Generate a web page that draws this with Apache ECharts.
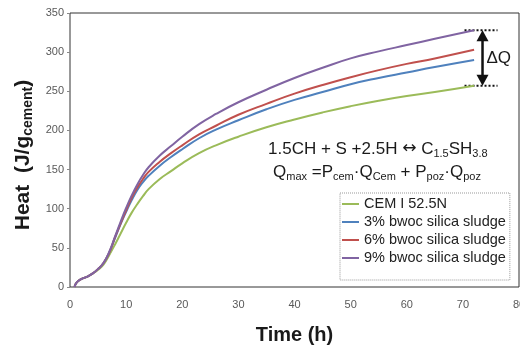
<!DOCTYPE html>
<html><head><meta charset="utf-8">
<script src="https://cdn.jsdelivr.net/npm/echarts@6/dist/echarts.min.js"></script>
<style>html,body{margin:0;padding:0;background:#fff}#c{width:520px;height:347px}</style>
</head><body><div id="c"></div>
<script>
const timeH = [0.8,1.2,2,3,4,5,6,7,8,9,10,11,12,13,14,16,18,20,23,26,30,35,40,45,50,55,60,65,72];
const cem   = [0,6,10,13,17,22,29,41,54,68,82,95,106,116,125,138,148,158,171,181,192,204,214,223,231,238,244,249,257];
const ss3   = [0,6,10,13,17,23,31,44,62,80,96,111,124,134,142,155,166,176,190,201,213,227,239,249,259,267,274,281,290];
const ss6   = [0,6,10,13,17,23,31,44,63,81,98,114,127,138,147,160,171,181,195,206,220,234,247,258,268,277,285,292,303];
const ss9   = [0,6,10,13,17,23,31,45,64,83,101,117,131,143,153,168,180,192,208,221,236,252,267,280,292,301,309,317,328];
const seriesNames = ['CEM I 52.5N','3% bwoc silica sludge','6% bwoc silica sludge','9% bwoc silica sludge'];
const seriesColors = ['#9bbb59','#4f81bd','#c0504d','#8064a2'];
const xTicks = [0,80,10];
const yTicks = [0,350,50];

const allData = [cem, ss3, ss6, ss9];
const chart = echarts.init(document.getElementById('c'), null, {renderer:'canvas'});
const font = 'Liberation Sans, Arial, sans-serif';
const series = allData.map((arr,i)=>({
  name: seriesNames[i], type:'line', smooth:0.5, symbol:'none',
  data: arr.map((v,j)=>[timeH[j], v]),
  lineStyle:{color:seriesColors[i], width:2}, itemStyle:{color:seriesColors[i]},
  z: 2+i
}));
chart.setOption({
  animation:false,
  grid:{left:70, right:1, top:13, bottom:60, show:true, borderColor:'#333', borderWidth:1,
        containLabel:false, outerBoundsMode:'none'},
  xAxis:{type:'value', min:xTicks[0], max:xTicks[1], interval:xTicks[2],
    axisLine:{show:false}, axisTick:{show:false}, splitLine:{show:false},
    axisLabel:{color:'#595959', fontSize:11, fontFamily:font, margin:12},
    name:'Time (h)', nameLocation:'middle', nameGap:38,
    nameTextStyle:{fontSize:20, fontWeight:'bold', color:'#1a1a1a', fontFamily:font}},
  yAxis:{type:'value', min:yTicks[0], max:yTicks[1], interval:yTicks[2],
    axisLine:{show:false}, axisTick:{show:true, length:3, lineStyle:{color:'#888'}}, splitLine:{show:false},
    axisLabel:{color:'#595959', fontSize:11, fontFamily:font, margin:6},
    name:'{b|Heat  (J/g}{s|cement}{b|)}', nameLocation:'middle', nameGap:33, nameRotate:90,
    nameTextStyle:{padding:[0,10,0,0], rich:{
      b:{fontSize:21, fontWeight:'bold', color:'#1a1a1a', fontFamily:font},
      s:{fontSize:14, fontWeight:'bold', color:'#1a1a1a', fontFamily:font, padding:[9,0,0,0]}
    }}},
  legend:{orient:'vertical', left:340, top:193, icon:'rect', itemWidth:17, itemHeight:2, itemGap:2,
    data:seriesNames,
    textStyle:{fontSize:14.5, fontFamily:font, color:'#222', lineHeight:16},
    borderColor:'#999', borderWidth:1, borderType:'dotted', padding:[3,4,14,2]},
  series: series
});

// annotations
const pTop = chart.convertToPixel({gridIndex:0}, [73.5, ss9[ss9.length-1]]);
const pBot = chart.convertToPixel({gridIndex:0}, [73.5, cem[cem.length-1]]);
const xa = pTop[0], x1 = xa-18, x2 = xa+15;
const yT = pTop[1], yB = pBot[1];
const rich = {n:{fontSize:17, fontFamily:font, fill:'#1a1a1a', color:'#1a1a1a'},
              a:{fontSize:17, fontFamily:'DejaVu Sans', fill:'#1a1a1a', color:'#1a1a1a'},
              s:{fontSize:11, fontFamily:font, fill:'#1a1a1a', color:'#1a1a1a', padding:[9,0,0,0]}};
chart.setOption({graphic:[
  {type:'line', shape:{x1:x1,y1:yT,x2:x2,y2:yT}, style:{stroke:'#111', lineWidth:2, lineDash:[2,2]}},
  {type:'line', shape:{x1:x1,y1:yB,x2:x2,y2:yB}, style:{stroke:'#111', lineWidth:2, lineDash:[2,2]}},
  {type:'line', shape:{x1:xa,y1:yT+8,x2:xa,y2:yB-8}, style:{stroke:'#111', lineWidth:2.5}},
  {type:'polygon', shape:{points:[[xa,yT],[xa-6,yT+11],[xa+6,yT+11]]}, style:{fill:'#111'}},
  {type:'polygon', shape:{points:[[xa,yB],[xa-6,yB-11],[xa+6,yB-11]]}, style:{fill:'#111'}},
  {type:'text', x:xa+4, y:(yT+yB)/2, style:{text:'ΔQ', font:'17px '+font, fill:'#1a1a1a', verticalAlign:'middle'}},
  {type:'text', x:268, y:149, style:{
    text:'{n|1.5CH + S +2.5H }{a|↔}{n| C}{s|1.5}{n|SH}{s|3.8}', verticalAlign:'middle', rich:rich}},
  {type:'text', x:273, y:172, style:{
    text:'{n|Q}{s|max}{n| =P}{s|cem}{n|·Q}{s|Cem}{n| + P}{s|poz}{n|·Q}{s|poz}', verticalAlign:'middle', rich:rich}}
]});
</script></body></html>
